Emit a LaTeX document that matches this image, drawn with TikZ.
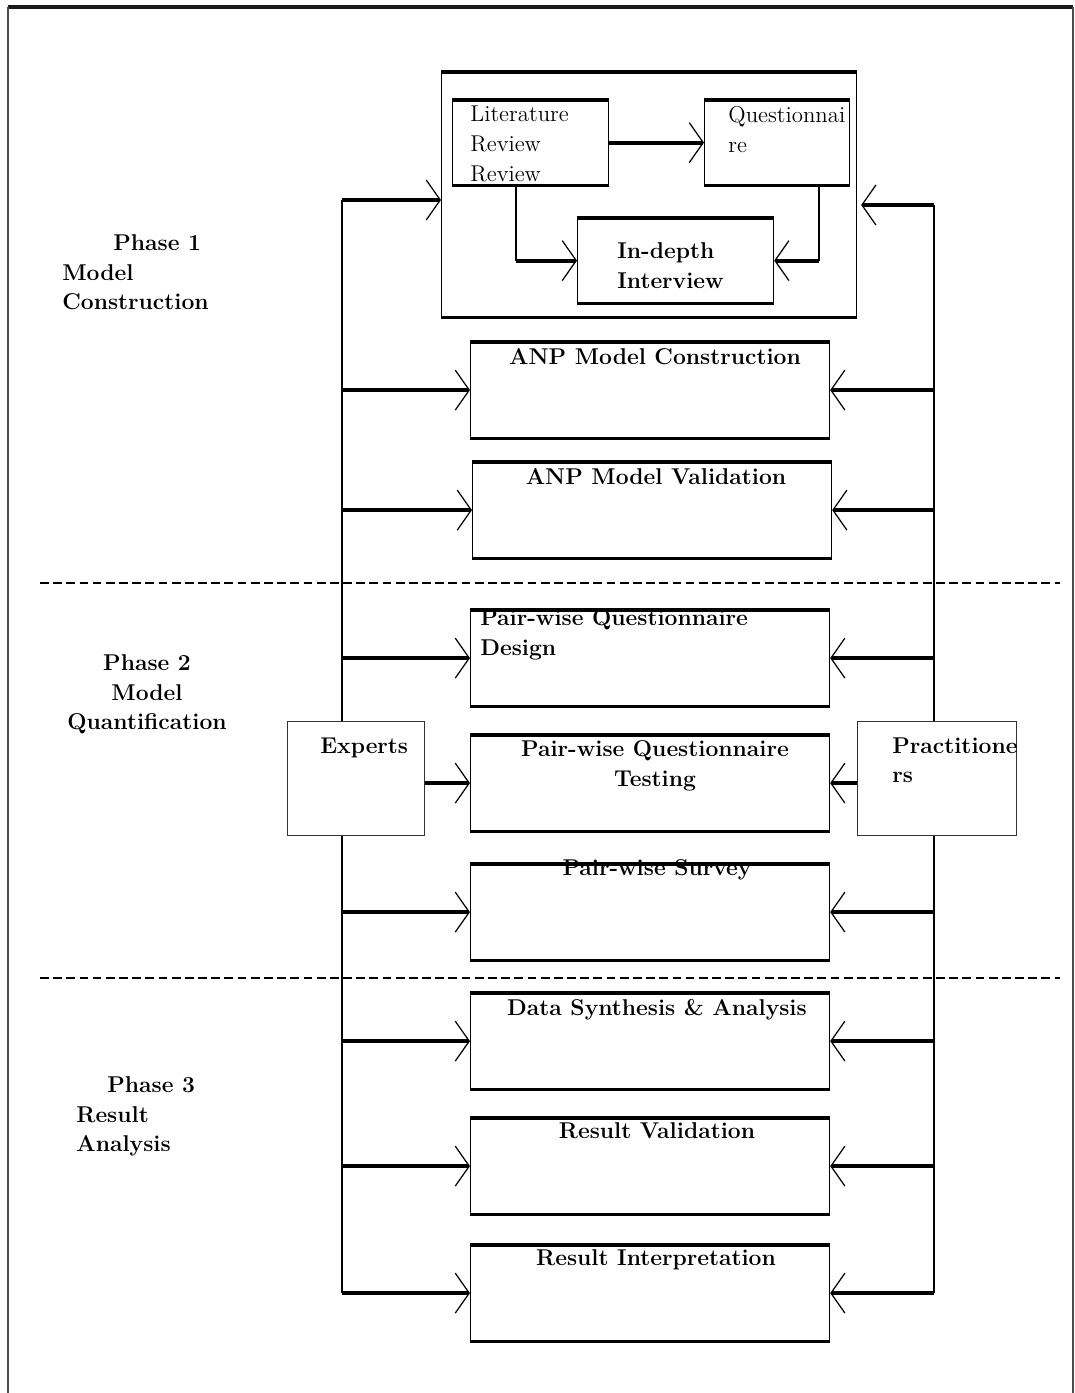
\documentclass[tikz,border=0pt]{standalone}
\usetikzlibrary{arrows.meta,calc}

\begin{document}
\begin{tikzpicture}[
    x=0.02cm, y=-0.02cm,
    every node/.style={font=\fontsize{13}{17}\selectfont, inner sep=0pt},
    feed/.style={line width=2.3pt, -{Straight Barb[length=0.28cm, width=0.8cm, line width=0.7pt 0 1]}},
    spine/.style={line width=0.8pt},
    edge/.style={line width=1.8pt},
    stage/.style={draw, line width=0.7pt, minimum width=7.18cm, minimum height=1.9cm, anchor=north west},
    step box/.style={draw, line width=0.7pt, minimum height=1.68cm, anchor=north west},
    actor/.style={draw, line width=0.6pt, black!80, minimum height=2.28cm, anchor=north west},
    title/.style={font=\bfseries\fontsize{13}{17}\selectfont, anchor=north, align=center},
    phase/.style={font=\bfseries\fontsize{13}{17}\selectfont},
    divider/.style={line width=1.2pt, dash pattern=on 5pt off 2.5pt},
]

\useasboundingbox (0,0) rectangle (1075,1393);

% === Page frame ===
\draw[line width=2.4pt, black!90] (8,7) -- (1073,7);
\draw[line width=1pt, black!70] (8,7) -- (8,1393);
\draw[line width=1pt, black!70] (1073,7) -- (1073,1393);

% === Phase separators ===
\draw[divider] (40,583) -- (1060,583);
\draw[divider] (40,978) -- (1060,978);

% === Phase labels ===
\node[phase, anchor=north west, align=left] (ph1) at (62,234) {\hspace*{1.02cm}Phase 1\\Model\\Construction};
\node[phase, anchor=north, align=center] (ph2) at (147,654) {Phase 2\\Model\\Quantification};
\node[phase, anchor=north west, align=left] (ph3) at (76,1076) {\hspace*{0.62cm}Phase 3\\Result\\Analysis};

% === Phase 1 group: literature, questionnaire, interview ===
\node[step box, minimum width=8.3cm, minimum height=4.88cm] (group) at (441,72) {};
\node[step box, minimum width=3.12cm] (lit) at (452,100) {};
\node[step box, minimum width=2.9cm] (quest) at (704,100) {};
\node[step box, minimum width=3.92cm] (deep) at (577,218) {};

\node[anchor=north west, align=left] (littxt) at (470,106) {Literature\\Review\\Review};
\node[anchor=north west, align=left] (questtxt) at (728,106) {Questionnai\\re};
\node[anchor=north west, align=left, font=\bfseries\fontsize{13}{17}\selectfont] (deeptxt) at (617,242) {In-depth\\Interview};

\draw[feed] (lit.east) -- (quest.west);
\coordinate (litdrop) at ($(lit.south west)+(64,0)$);
\coordinate (litturn) at (litdrop |- deep.west);
\draw[spine] (litdrop) -- (litturn);
\draw[feed] (litturn) -- (deep.west);
\coordinate (questdrop) at ($(quest.south west)+(115,0)$);
\coordinate (questturn) at (questdrop |- deep.west);
\draw[spine] (questdrop) -- (questturn);
\draw[feed] (questturn) -- (deep.east);

% === Stage boxes ===
\node[stage] (anpc) at (470,342) {};
\node[stage] (anpv) at (472,462) {};
\node[stage] (pqd)  at (470,610) {};
\node[stage] (pqt)  at (470,735) {};
\node[stage] (pws)  at (470,864) {};
\node[stage] (dsa)  at (470,993) {};
\node[stage] (rv)   at (470,1118) {};
\node[stage] (ri)   at (470,1245) {};

\node[title] (anpctxt) at (655,348) {ANP Model Construction};
\node[title] (anpvtxt) at (656,468) {ANP Model Validation};
\node[title, anchor=north west, align=left] (pqdtxt) at (480,609) {Pair-wise Questionnaire\\Design};
\node[title] (pqttxt) at (655,740) {Pair-wise Questionnaire\\Testing};
\node[title] (pwstxt) at (657,859) {Pair-wise Survey};
\node[title] (dsatxt) at (657,999) {Data Synthesis \& Analysis};
\node[title] (rvtxt)  at (657,1122) {Result Validation};
\node[title] (ritxt)  at (656,1249) {Result Interpretation};

% thick top and bottom rules
\foreach \n in {group,lit,quest,deep,anpc,anpv,pqd,pqt,pws,dsa,rv,ri} {
    \draw[edge] (\n.north west) -- (\n.north east);
    \draw[edge] (\n.south west) -- (\n.south east);
}

% === Experts and practitioners ===
\node[actor, minimum width=2.74cm] (experts) at (287,721) {};
\node[actor, minimum width=3.18cm] (pract) at (857,721) {};
\node[anchor=north west, font=\bfseries\fontsize{13}{17}\selectfont] (exptxt) at (320,738) {Experts};
\node[anchor=north west, align=left, font=\bfseries\fontsize{13}{17}\selectfont] (practtxt) at (892,737) {Practitione\\rs};

\coordinate (ltop) at (342,200);
\coordinate (rtop) at (934,205);
\coordinate (lbot) at (ltop |- ri.west);
\coordinate (rbot) at (rtop |- ri.east);

% spines
\draw[spine] (ltop) -- (ltop |- experts.north);
\draw[spine] (ltop |- experts.south) -- (lbot);
\draw[spine] (rtop) -- (rtop |- pract.north);
\draw[spine] (rtop |- pract.south) -- (rbot);

% branches into the group
\draw[feed] (ltop) -- (group.west |- ltop);
\draw[feed] (rtop) -- ($(group.east |- rtop)+(4,0)$);

% branches into the stages
\foreach \n in {anpc,anpv,pqd,pws,dsa,rv,ri} {
    \draw[feed] (ltop |- \n.west) -- (\n.west);
    \draw[feed] (rtop |- \n.east) -- (\n.east);
}
\draw[feed] (experts.east |- pqt.west) -- (pqt.west);
\draw[feed] (pract.west |- pqt.east) -- (pqt.east);

\end{tikzpicture}
\end{document}
